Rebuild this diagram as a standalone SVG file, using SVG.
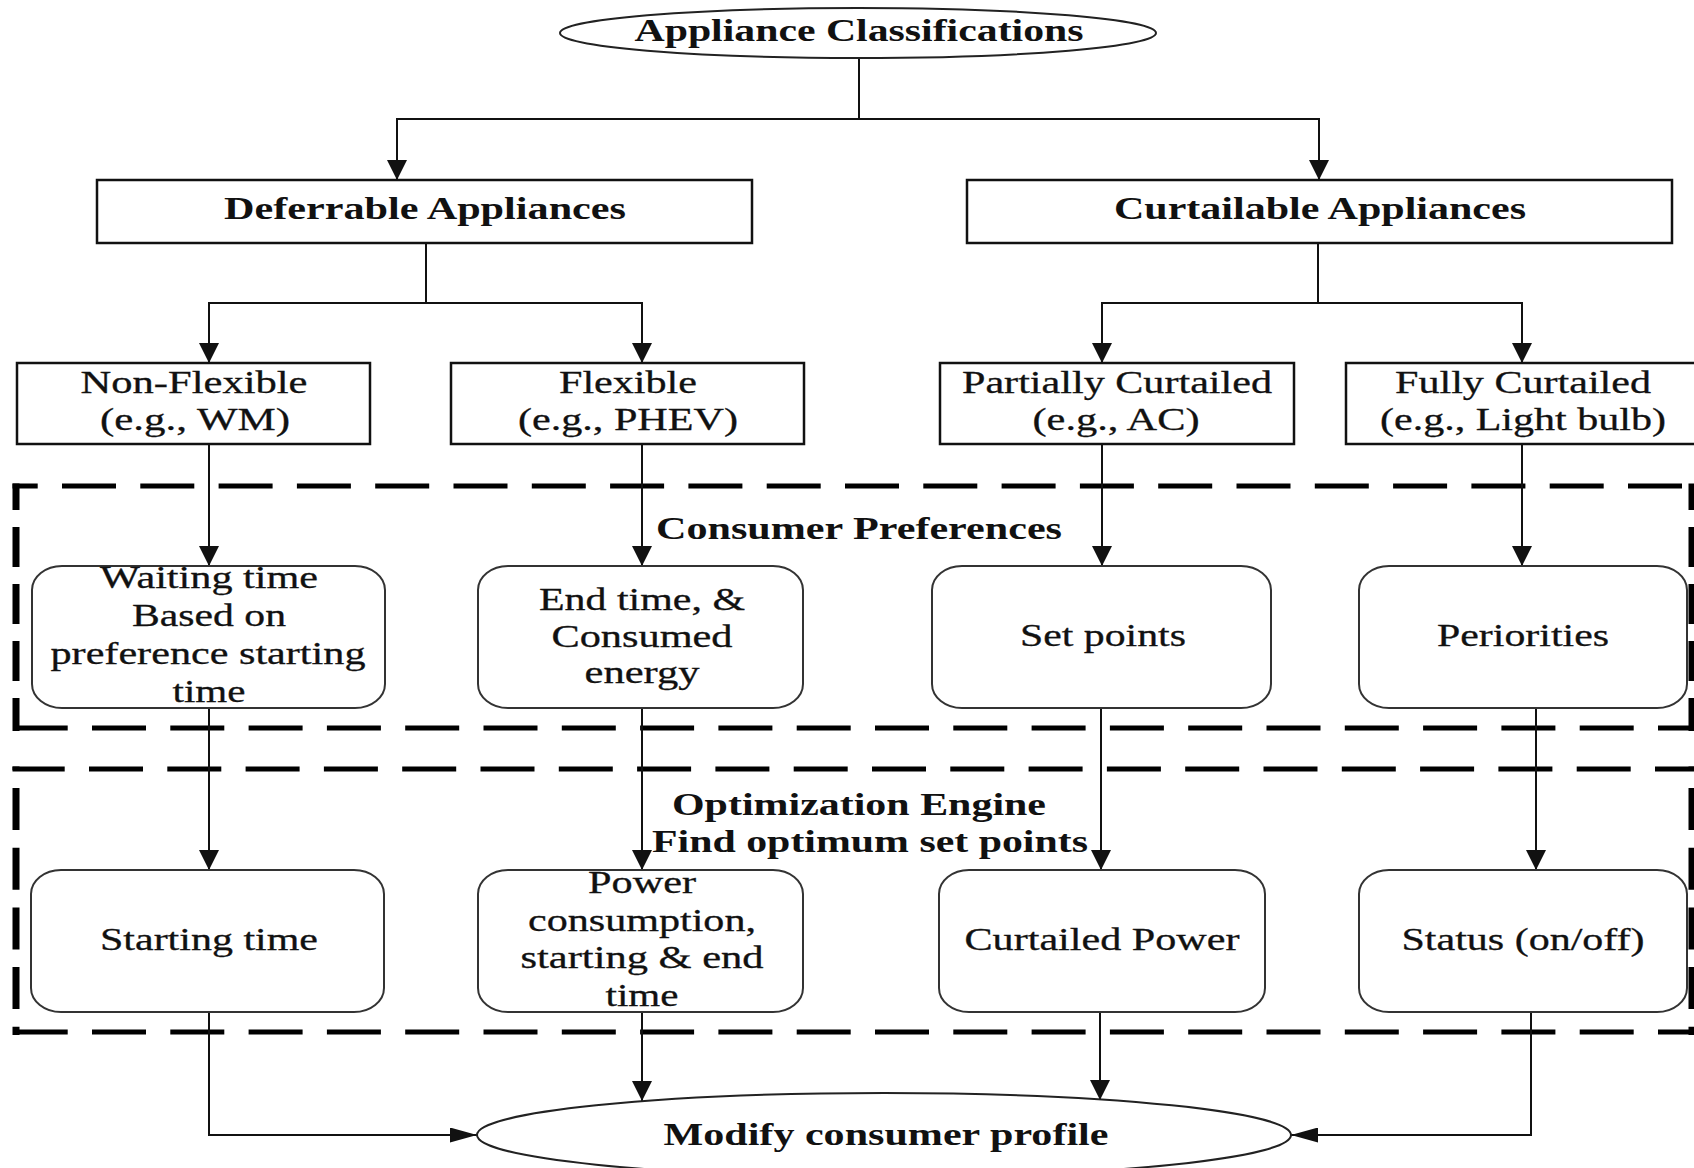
<svg xmlns="http://www.w3.org/2000/svg" width="1694" height="1168" viewBox="0 0 1694 1168">
  <style>
    .t { font-family: "Liberation Serif", "Times New Roman", serif; font-size: 31px; fill: #111; text-anchor: middle; stroke: #111; stroke-width: 0.3; }
    .b { font-weight: bold; stroke-width: 0; }
    .box { fill: #fff; stroke: #111; stroke-width: 2.5; }
    .rbox { fill: #fff; stroke: #333; stroke-width: 2; }
    .oval { fill: #fff; stroke: #222; stroke-width: 2; }
    .wire { fill: none; stroke: #111; stroke-width: 2; }
    .down { marker-end: url(#arrowDown); }
    .side { marker-end: url(#arrowSide); }
    .dh { fill: none; stroke: #000; stroke-width: 5; stroke-dasharray: 54 24.3; }
    .dv { fill: none; stroke: #000; stroke-width: 7; }
  </style>
  <defs>
    <marker id="arrowDown" markerUnits="userSpaceOnUse" viewBox="0 0 20 20" markerWidth="20" markerHeight="20" refX="20" refY="10" orient="auto">
      <path d="M0,0 L20,10 L0,20 Z" fill="#111"/>
    </marker>
    <marker id="arrowSide" markerUnits="userSpaceOnUse" viewBox="0 0 27 15" markerWidth="27" markerHeight="15" refX="27" refY="7.5" orient="auto">
      <path d="M0,0 L27,7.5 L0,15 Z" fill="#111"/>
    </marker>
  </defs>

  <rect x="0" y="0" width="1694" height="1168" fill="#fff"/>

  <!-- dashed group frames -->
  <g id="frame-preferences">
    <path class="dh" d="M12.5,486 H1700" stroke-dashoffset="28.8"/>
    <path class="dh" d="M12.5,728 H1700" stroke-dashoffset="77.1"/>
    <path class="dv" d="M16,483.5 V731" stroke-dasharray="40 17" stroke-dashoffset="13.5"/>
    <path class="dv" d="M1692,483.5 V731" stroke-dasharray="40 17" stroke-dashoffset="13.5"/>
  </g>
  <g id="frame-optimization">
    <path class="dh" d="M12.5,769 H1700" stroke-dashoffset="1.8"/>
    <path class="dh" d="M12.5,1032 H1700" stroke-dashoffset="77.1"/>
    <path class="dv" d="M16,766.5 V1035" stroke-dasharray="42 17.7" stroke-dashoffset="38.2"/>
    <path class="dv" d="M1692,766.5 V1035" stroke-dasharray="42 17.7" stroke-dashoffset="38.2"/>
  </g>

  <!-- connectors -->
  <g id="connectors">
    <path class="wire" d="M859,58 V119"/>
    <path class="wire down" d="M859,119 H397 V180"/>
    <path class="wire down" d="M859,119 H1319 V180"/>

    <path class="wire" d="M426,243 V303"/>
    <path class="wire down" d="M426,303 H209 V363"/>
    <path class="wire down" d="M426,303 H642 V363"/>
    <path class="wire" d="M1318,243 V303"/>
    <path class="wire down" d="M1318,303 H1102 V363"/>
    <path class="wire down" d="M1318,303 H1522 V363"/>

    <path class="wire down" d="M209,444 V566"/>
    <path class="wire down" d="M642,444 V566"/>
    <path class="wire down" d="M1102,444 V566"/>
    <path class="wire down" d="M1522,444 V566"/>

    <path class="wire down" d="M209,708 V870"/>
    <path class="wire down" d="M642,708 V870"/>
    <path class="wire down" d="M1101,708 V870"/>
    <path class="wire down" d="M1536,708 V870"/>

    <path class="wire side" d="M209,1012 V1135 H477"/>
    <path class="wire down" d="M642,1012 V1101"/>
    <path class="wire down" d="M1100,1012 V1100"/>
    <path class="wire side" d="M1531,1012 V1135 H1291"/>
  </g>

  <!-- frame captions -->
  <text id="caption-preferences" class="t b" x="859" y="539" textLength="406" lengthAdjust="spacingAndGlyphs">Consumer Preferences</text>
  <g id="caption-optimization">
    <text class="t b" x="859" y="815" textLength="374" lengthAdjust="spacingAndGlyphs">Optimization Engine</text>
    <text class="t b" x="870" y="852" textLength="436" lengthAdjust="spacingAndGlyphs">Find optimum set points</text>
  </g>

  <!-- root -->
  <g id="appliance-classifications">
    <ellipse class="oval" cx="858" cy="33" rx="298" ry="25"/>
    <text class="t b" x="859" y="41" textLength="449" lengthAdjust="spacingAndGlyphs">Appliance Classifications</text>
  </g>

  <!-- categories -->
  <g id="deferrable">
    <rect class="box" x="97" y="180" width="655" height="63"/>
    <text class="t b" x="425" y="219" textLength="402" lengthAdjust="spacingAndGlyphs">Deferrable Appliances</text>
  </g>
  <g id="curtailable">
    <rect class="box" x="967" y="180" width="705" height="63"/>
    <text class="t b" x="1320" y="219" textLength="412" lengthAdjust="spacingAndGlyphs">Curtailable Appliances</text>
  </g>

  <!-- appliance types -->
  <g id="non-flexible">
    <rect class="box" x="17" y="363" width="353" height="81"/>
    <text class="t" x="194" y="393" textLength="227" lengthAdjust="spacingAndGlyphs">Non-Flexible</text>
    <text class="t" x="195" y="430" textLength="190" lengthAdjust="spacingAndGlyphs">(e.g., WM)</text>
  </g>
  <g id="flexible">
    <rect class="box" x="451" y="363" width="353" height="81"/>
    <text class="t" x="628" y="393" textLength="138" lengthAdjust="spacingAndGlyphs">Flexible</text>
    <text class="t" x="628" y="430" textLength="220" lengthAdjust="spacingAndGlyphs">(e.g., PHEV)</text>
  </g>
  <g id="partially-curtailed">
    <rect class="box" x="940" y="363" width="354" height="81"/>
    <text class="t" x="1117" y="393" textLength="310" lengthAdjust="spacingAndGlyphs">Partially Curtailed</text>
    <text class="t" x="1116" y="430" textLength="167" lengthAdjust="spacingAndGlyphs">(e.g., AC)</text>
  </g>
  <g id="fully-curtailed">
    <rect class="box" x="1346" y="363" width="355" height="81"/>
    <text class="t" x="1523" y="393" textLength="256" lengthAdjust="spacingAndGlyphs">Fully Curtailed</text>
    <text class="t" x="1523" y="430" textLength="286" lengthAdjust="spacingAndGlyphs">(e.g., Light bulb)</text>
  </g>

  <!-- consumer preferences -->
  <g id="waiting-time">
    <rect class="rbox" x="32" y="566" width="353" height="142" rx="30" ry="24"/>
    <text class="t" x="209" y="588" textLength="218" lengthAdjust="spacingAndGlyphs">Waiting time</text>
    <text class="t" x="209" y="626" textLength="154" lengthAdjust="spacingAndGlyphs">Based on</text>
    <text class="t" x="208" y="664" textLength="315" lengthAdjust="spacingAndGlyphs">preference starting</text>
    <text class="t" x="209" y="702" textLength="73" lengthAdjust="spacingAndGlyphs">time</text>
  </g>
  <g id="end-time">
    <rect class="rbox" x="478" y="566" width="325" height="142" rx="30" ry="24"/>
    <text class="t" x="642" y="610" textLength="206" lengthAdjust="spacingAndGlyphs">End time, &amp;</text>
    <text class="t" x="642" y="647" textLength="181" lengthAdjust="spacingAndGlyphs">Consumed</text>
    <text class="t" x="642" y="683" textLength="115" lengthAdjust="spacingAndGlyphs">energy</text>
  </g>
  <g id="set-points">
    <rect class="rbox" x="932" y="566" width="339" height="142" rx="30" ry="24"/>
    <text class="t" x="1103" y="646" textLength="166" lengthAdjust="spacingAndGlyphs">Set points</text>
  </g>
  <g id="periorities">
    <rect class="rbox" x="1359" y="566" width="328" height="142" rx="30" ry="24"/>
    <text class="t" x="1523" y="646" textLength="172" lengthAdjust="spacingAndGlyphs">Periorities</text>
  </g>

  <!-- optimization outputs -->
  <g id="starting-time">
    <rect class="rbox" x="31" y="870" width="353" height="142" rx="30" ry="24"/>
    <text class="t" x="209" y="950" textLength="218" lengthAdjust="spacingAndGlyphs">Starting time</text>
  </g>
  <g id="power-consumption">
    <rect class="rbox" x="478" y="870" width="325" height="142" rx="30" ry="24"/>
    <text class="t" x="642" y="893" textLength="108" lengthAdjust="spacingAndGlyphs">Power</text>
    <text class="t" x="642" y="931" textLength="228" lengthAdjust="spacingAndGlyphs">consumption,</text>
    <text class="t" x="642" y="968" textLength="243" lengthAdjust="spacingAndGlyphs">starting &amp; end</text>
    <text class="t" x="642" y="1006" textLength="73" lengthAdjust="spacingAndGlyphs">time</text>
  </g>
  <g id="curtailed-power">
    <rect class="rbox" x="939" y="870" width="326" height="142" rx="30" ry="24"/>
    <text class="t" x="1102" y="950" textLength="275" lengthAdjust="spacingAndGlyphs">Curtailed Power</text>
  </g>
  <g id="status">
    <rect class="rbox" x="1359" y="870" width="328" height="142" rx="30" ry="24"/>
    <text class="t" x="1523" y="950" textLength="243" lengthAdjust="spacingAndGlyphs">Status (on/off)</text>
  </g>

  <!-- result -->
  <g id="modify-profile">
    <ellipse class="oval" cx="884" cy="1135" rx="407" ry="42"/>
    <text class="t b" x="886" y="1145" textLength="445" lengthAdjust="spacingAndGlyphs">Modify consumer profile</text>
  </g>
</svg>
